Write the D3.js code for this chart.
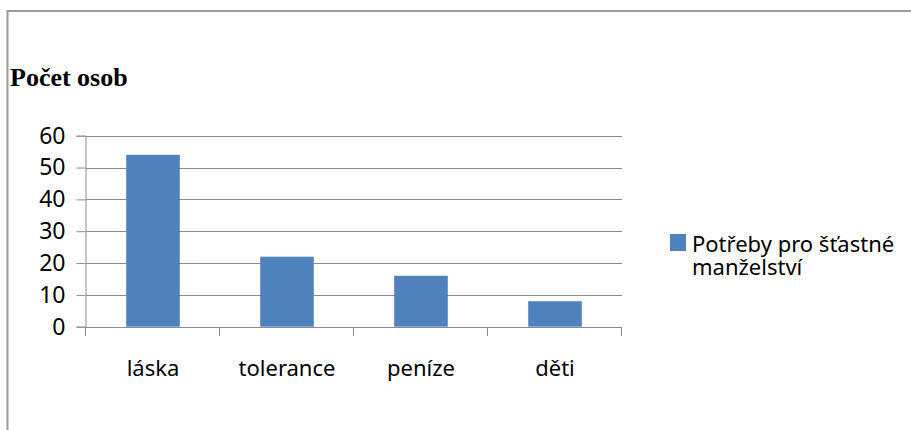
<!DOCTYPE html>
<html lang="cs">
<head>
    <meta charset="UTF-8">
    <title>Počet osob</title>
    <style>
        body {
            margin: 0;
            padding: 0;
            background-color: #fff;
        }

        svg {
            display: block;
        }

        .tick-label {
            font-family: 'Noto Sans', sans-serif;
            font-size: 22px;
            fill: #000;
        }

        .y-label {
            font-size: 23px;
        }
    </style>
</head>
<body>
<div id="chart"></div>

<script src="https://d3js.org/d3.v7.min.js"></script>
<script>
    // data
    const categories = ["láska", "tolerance", "peníze", "děti"];
    const values = [54, 22, 16, 8];
    const yTicks = [0, 10, 20, 30, 40, 50, 60];
    const seriesName = ["Potřeby pro šťastné", "manželství"];
    const title = "Počet osob";

    const width = 911;
    const height = 430;
    const plot = {left: 86, right: 622, top: 135.7, bottom: 326.7};
    const barColor = "#4f81bd";
    const gridColor = "#8c8c8c";

    const svg = d3.select("#chart")
        .append("svg")
        .attr("width", width)
        .attr("height", height);

    // outer frame (only top and left edges are visible)
    svg.append("path")
        .attr("d", "M7.5,430 V11 H911")
        .attr("fill", "none")
        .attr("stroke", "#9a9a9a")
        .attr("stroke-width", 2);

    svg.append("text")
        .attr("x", 10)
        .attr("y", 86)
        .style("font-family", "'Liberation Serif', 'Times New Roman', serif")
        .style("font-weight", "bold")
        .style("font-size", "26px")
        .attr("fill", "#000")
        .text(title);

    const x = d3.scaleBand()
        .domain(categories)
        .range([plot.left, plot.right])
        .paddingInner(0.6)
        .paddingOuter(0.3);

    const y = d3.scaleLinear()
        .domain([0, 60])
        .range([plot.bottom, plot.top]);

    // gridlines
    svg.append("g")
        .selectAll("line")
        .data(yTicks)
        .enter().append("line")
        .attr("x1", plot.left)
        .attr("x2", plot.right)
        .attr("y1", function (d) { return Math.round(y(d)) + 0.5; })
        .attr("y2", function (d) { return Math.round(y(d)) + 0.5; })
        .attr("stroke", gridColor)
        .attr("stroke-width", 1);

    // y axis
    const yAxis = svg.append("g")
        .attr("transform", "translate(" + (plot.left - 0.5) + ",0)")
        .call(d3.axisLeft(y).tickValues(yTicks).tickSize(9).tickPadding(11));
    yAxis.select(".domain").attr("stroke", gridColor);
    yAxis.selectAll(".tick line").attr("stroke", gridColor);
    yAxis.selectAll(".tick text").attr("class", "tick-label y-label").attr("fill", "#000");

    // bars
    svg.append("g")
        .selectAll("rect")
        .data(values)
        .enter().append("rect")
        .attr("x", function (d, i) { return x(categories[i]); })
        .attr("y", function (d) { return y(d); })
        .attr("width", x.bandwidth())
        .attr("height", function (d) { return y(0) - y(d); })
        .attr("fill", barColor);

    // x axis: baseline plus ticks on the category boundaries
    const step = x.step();
    const boundaries = d3.range(categories.length + 1).map(function (i) {
        return plot.left + i * step;
    });
    svg.append("line")
        .attr("x1", plot.left)
        .attr("x2", plot.right)
        .attr("y1", Math.round(y(0)) + 0.5)
        .attr("y2", Math.round(y(0)) + 0.5)
        .attr("stroke", gridColor);
    svg.append("g")
        .selectAll("line")
        .data(boundaries)
        .enter().append("line")
        .attr("x1", function (d) { return Math.round(d) - 0.5; })
        .attr("x2", function (d) { return Math.round(d) - 0.5; })
        .attr("y1", Math.round(y(0)))
        .attr("y2", Math.round(y(0)) + 9)
        .attr("stroke", gridColor);

    svg.append("g")
        .selectAll("text")
        .data(categories)
        .enter().append("text")
        .attr("class", "tick-label")
        .attr("x", function (d) { return x(d) + x.bandwidth() / 2; })
        .attr("y", 376)
        .attr("text-anchor", "middle")
        .text(function (d) { return d; });

    // legend
    const legend = svg.append("g");
    legend.append("rect")
        .attr("x", 670)
        .attr("y", 234)
        .attr("width", 16)
        .attr("height", 17)
        .attr("fill", barColor);
    legend.append("text")
        .attr("class", "tick-label")
        .selectAll("tspan")
        .data(seriesName)
        .enter().append("tspan")
        .attr("x", 692)
        .attr("y", function (d, i) { return 251.5 + i * 23.5; })
        .text(function (d) { return d; });
</script>
</body>
</html>
